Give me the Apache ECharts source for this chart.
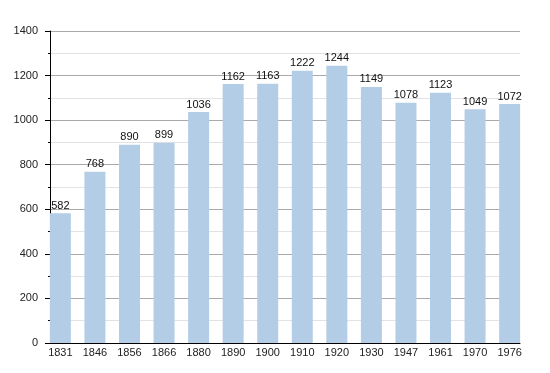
<!DOCTYPE html>
<html><head><meta charset="utf-8">
<script src="https://cdn.jsdelivr.net/npm/echarts@6/dist/echarts.min.js"></script>
<style>html,body{margin:0;padding:0;background:#fff}#c{width:550px;height:373px}</style>
</head><body><div id="c"></div>
<script>
const years = ['1831','1846','1856','1866','1880','1890','1900','1910','1920','1930','1947','1961','1970','1976'];
const population = [582,768,890,899,1036,1162,1163,1222,1244,1149,1078,1123,1049,1072];
const yTicks = [0,200,400,600,800,1000,1200,1400];

const chart = echarts.init(document.getElementById('c'), null, {renderer:'canvas'});
const font = 'Liberation Sans, Arial, sans-serif';
const idx = years.map((_, i) => i);
chart.setOption({
  animation:false,
  grid:{left:50,right:30,top:31,bottom:30,containLabel:false},
  xAxis:{
    type:'value', min:-0.3, max:years.length-0.7,
    axisLine:{show:true,onZero:false,lineStyle:{color:'#000',width:1}},
    axisTick:{show:false},
    splitLine:{show:false},
    axisLabel:{customValues:idx,formatter:v=>years[Math.round(v)],color:'#222',fontSize:11,fontFamily:font,margin:4}
  },
  yAxis:{
    type:'value', min:0, max:1400, interval:200,
    axisLine:{show:true,onZero:false,lineStyle:{color:'#000',width:1}},
    axisTick:{show:true,length:5,lineStyle:{color:'#000'}},
    minorTick:{show:true,splitNumber:2,length:2,lineStyle:{color:'#000'}},
    splitLine:{show:true,lineStyle:{color:'#aaaaaa',width:1}},
    minorSplitLine:{show:true,lineStyle:{color:'#e2e2e2',width:1}},
    axisLabel:{color:'#222',fontSize:11,fontFamily:font,margin:12,
      formatter:v=>String(v)}
  },
  series:[{
    type:'bar',
    data:population.map((v,i)=>[i,v]),
    barWidth:21,
    itemStyle:{color:'#b3cde6'},
    label:{show:true,position:'top',distance:2,color:'#111',fontSize:11,fontFamily:font},
    z:3
  }]
});
</script></body></html>
